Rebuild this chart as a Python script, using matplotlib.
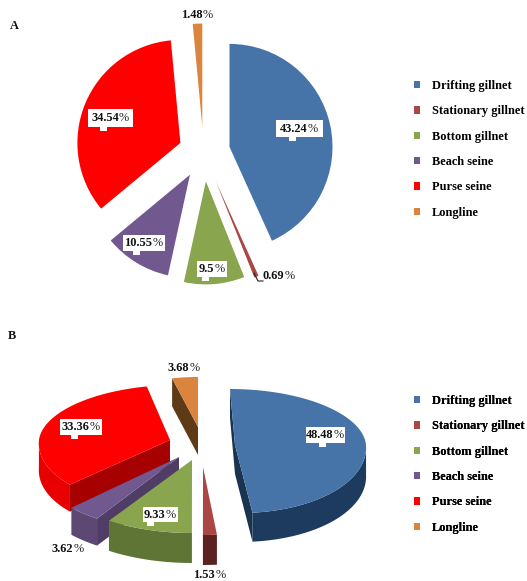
import numpy as np
import matplotlib
matplotlib.use("Agg")
import matplotlib.pyplot as plt
from matplotlib.patches import Rectangle, Patch

gears = ["Drifting gillnet", "Stationary gillnet", "Bottom gillnet", "Beach seine", "Purse seine", "Longline"]
share_a = [43.24, 0.69, 9.5, 10.55, 34.54, 1.48]
share_b = [48.48, 1.53, 9.33, 3.62, 33.36, 3.68]
colors = ["#4674A8", "#AA4643", "#89A54E", "#71588F", "#FF0000", "#DB843D"]

W, H = 527, 581
FS = 8.9
FAM = "Liberation Serif"
fig = plt.figure(figsize=(W / 100, H / 100), dpi=100)
ax = fig.add_axes([0, 0, 1, 1])

def Y(p):
    return H - p

def pct_label(cx, py, num):
    em = FS * 100 / 72
    nw = (sum(c != "." for c in num) * 0.5 + 0.25) * em
    pw = 0.9 * em
    split = cx + (nw - pw) / 2
    ax.text(split, Y(py), num, ha="right", va="center", family=FAM, weight="bold", fontsize=FS, color="#111111", zorder=12)
    ax.text(split, Y(py), "%", ha="left", va="center", family=FAM, fontsize=FS, color="#222222", zorder=12)

def box_label(x0, x1, y0, y1, tx, num):
    ax.add_patch(Rectangle((x0, Y(y1)), x1 - x0, y1 - y0, fc="white", ec="none", zorder=10))
    ax.add_patch(Rectangle((tx, Y(y1 + 3.5)), 7, 4, fc="white", ec="none", zorder=10))
    pct_label((x0 + x1) / 2, (y0 + y1) / 2, num)

# ---------- Panel A: exploded flat pie ----------
explode_a = [26.6, 32, 29, 26, 25, 26]
ax.pie(share_a, explode=explode_a, colors=colors, radius=103, center=(203.5, Y(152.5)),
       startangle=90, counterclock=False, wedgeprops=dict(linewidth=0))

# ---------- Panel B: exploded 3-D pie ----------
def rim(theta, a, rx, ry_up, ry_dn, k):
    t = np.radians(theta)
    c = np.cos(t)
    ry = np.where(c > 0, ry_up, ry_dn)
    return a[0] + rx * np.sin(t) - k * c, a[1] - ry * c

def wedge3d(start, end, a, rx, ry_up, ry_dn, k, depth, top, rimc, wallc, walls=(), z=3):
    th = np.linspace(start, end, 80)
    x, y = rim(th, a, rx, ry_up, ry_dn, k)
    front = th[(th >= 90) & (th <= 270)]
    if len(front) > 1:
        fx, fy = rim(front, a, rx, ry_up, ry_dn, k)
        ax.fill(np.r_[fx, fx[::-1]], Y(np.r_[fy, fy[::-1] + depth]), color=rimc, lw=0, zorder=z)
    for w in walls:
        ex, ey = rim(np.array([w]), a, rx, ry_up, ry_dn, k)
        px = [a[0], ex[0], ex[0], a[0]]
        py = [a[1], ey[0], ey[0] + depth, a[1] + depth]
        ax.fill(px, Y(np.array(py)), color=wallc, lw=0, zorder=z)
    ax.fill(np.r_[a[0], x], Y(np.r_[a[1], y]), color=top, lw=0, zorder=z + 0.5)

cum = np.r_[0, np.cumsum(share_b)] * 3.6
wedge3d(cum[5], cum[6], (198, 427), 113, 50, 50, 0, 28, colors[5], "#5F3A17", "#5F3A17", walls=(cum[5],), z=2)
wedge3d(cum[4], cum[5], (170, 440), 131, 55, 65, -7, 27, colors[4], "#E80000", "#A60000", walls=(cum[4],), z=3)
wedge3d(cum[0], cum[1], (235, 445), 131, 56, 68, 5, 29, colors[0], "#1D3B5E", "#1A3450", walls=(cum[0], cum[1]), z=3)
wedge3d(cum[3], cum[4], (179, 457), 148, 74, 74, 0, 27, colors[3], "#5C4873", "#4F3D66", walls=(cum[3],), z=4)
wedge3d(cum[2], cum[3], (192, 460), 150, 73, 73, 0, 30, colors[2], "#5F7536", "#5F7536", z=5)
wedge3d(cum[1], cum[2], (203, 467), 146, 68, 68, 0, 30, colors[1], "#5C2222", "#5C2222", z=5)

# ---------- Labels ----------
box_label(276, 323, 120, 137, 289, "43.24")
box_label(88, 133, 109, 127, 100, "34.54")
box_label(123, 165, 235, 251, 133, "10.55")
box_label(197, 227, 261, 277, 202, "9.5")
pct_label(197, 15, "1.48")
pct_label(279, 276, "0.69")
ax.plot([254, 258, 263], Y(np.array([273, 281, 281])), color="#222222", lw=0.8, zorder=9)

box_label(306, 345, 427, 443, 319, "48.48")
box_label(60, 102, 419, 435, 71, "33.36")
box_label(143, 178, 507, 522, 147, "9.33")
pct_label(184, 368, "3.68")
pct_label(68, 549, "3.62")
pct_label(210, 575, "1.53")

ax.text(14, Y(26), "A", family=FAM, weight="bold", fontsize=FS, ha="center", va="center", color="#111111")
ax.text(12, Y(336), "B", family=FAM, weight="bold", fontsize=FS, ha="center", va="center", color="#111111")

# ---------- Legends ----------
handles = [Patch(fc=c, ec="none", label=g) for c, g in zip(colors, gears)]
for top in (80, 395):
    leg = ax.legend(handles=handles, loc="upper left", bbox_to_anchor=(414, Y(top)), bbox_transform=ax.transData,
                    frameon=False, borderpad=0, borderaxespad=0, labelspacing=1.08, handlelength=0.52,
                    handleheight=0.52, handletextpad=0.9,
                    prop=dict(family=FAM, weight="bold", size=FS))
    ax.add_artist(leg)

ax.set_xlim(0, W)
ax.set_ylim(0, H)
ax.set_aspect("auto")
ax.axis("off")
fig.savefig("out.png", dpi=100, facecolor="white")
